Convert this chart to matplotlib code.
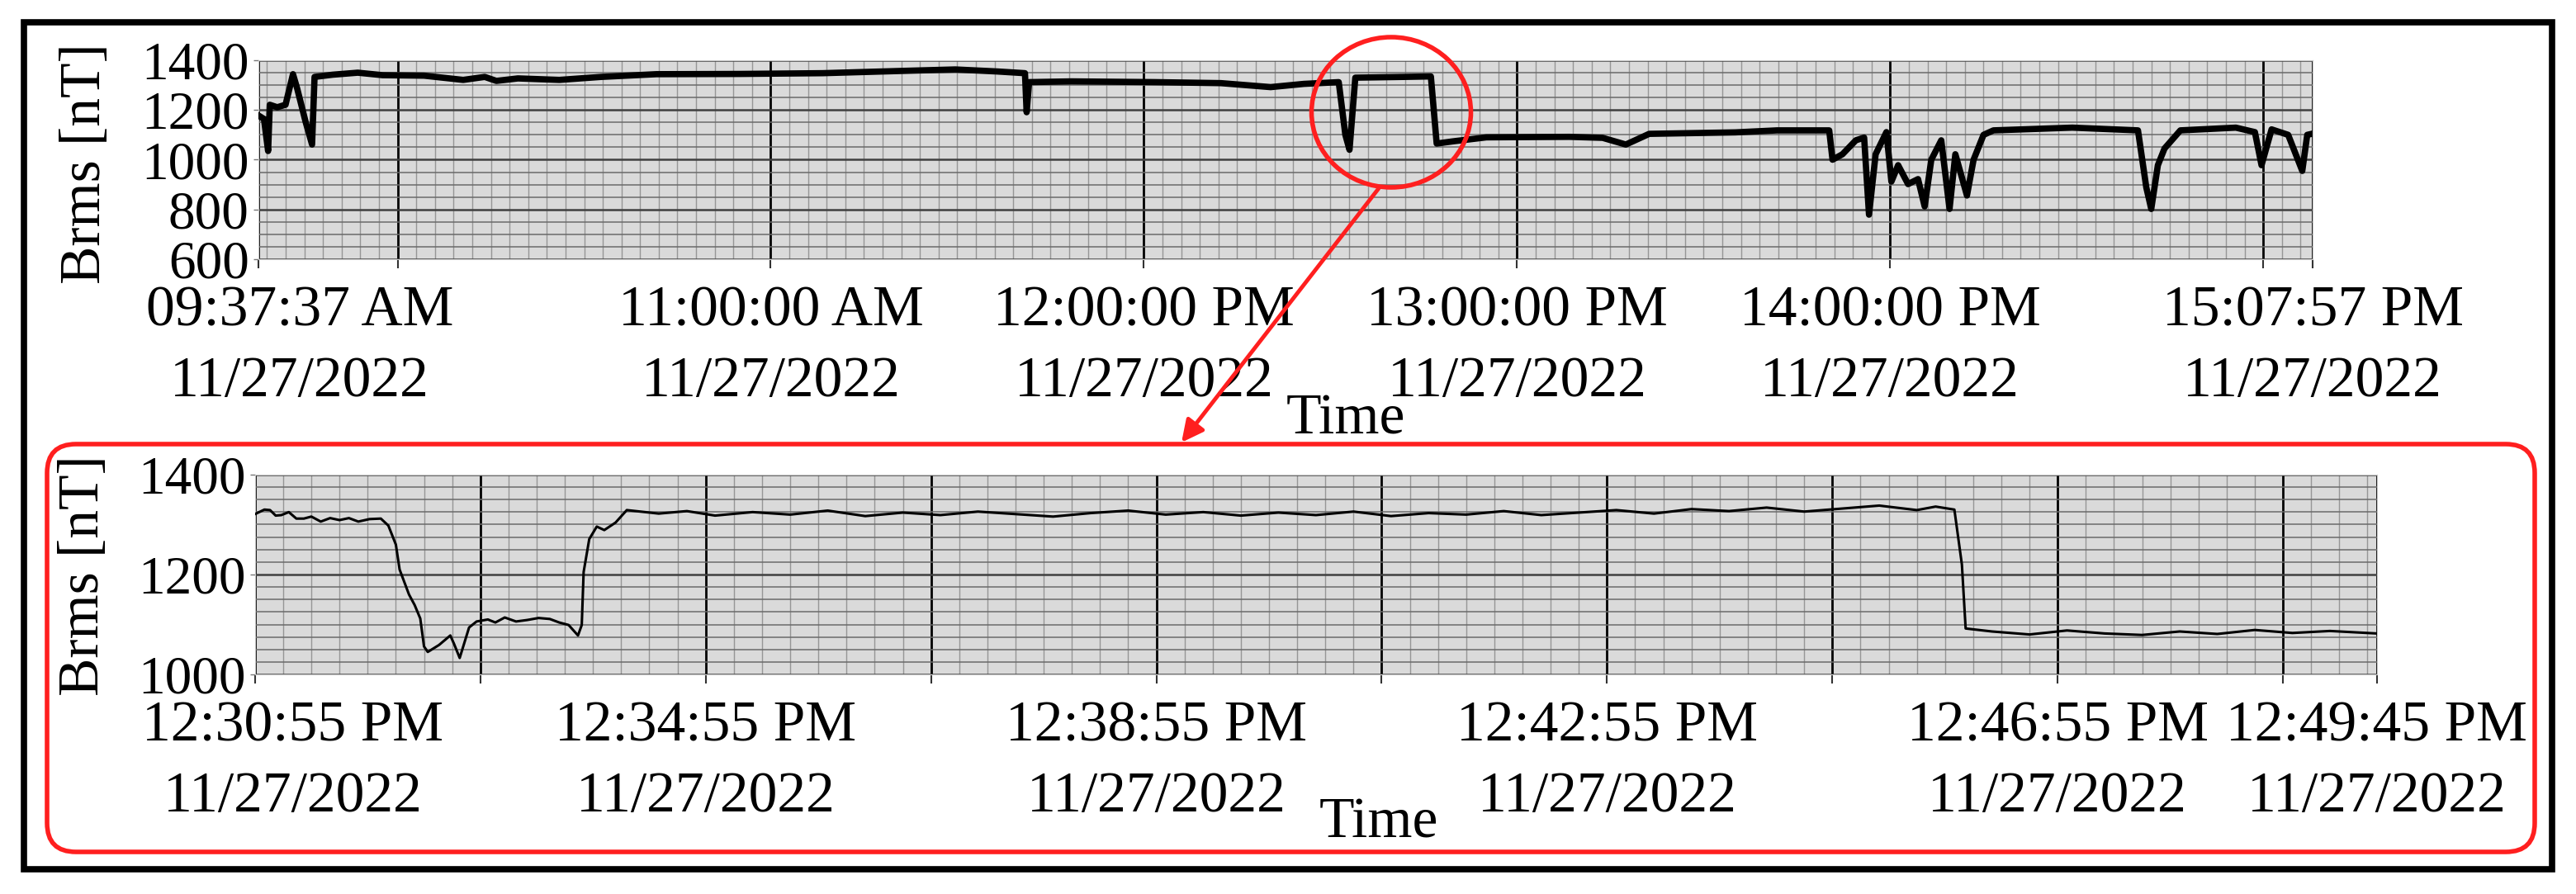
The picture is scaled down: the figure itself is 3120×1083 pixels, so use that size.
import numpy as np
import matplotlib
matplotlib.use('Agg')
import matplotlib.pyplot as plt
import matplotlib.transforms as mtransforms
from matplotlib.patches import Ellipse, Rectangle, FancyBboxPatch, FancyArrowPatch
from matplotlib.ticker import FixedLocator

plt.rcParams['font.family'] = ['Liberation Serif', 'DejaVu Serif']

DATE = '11/27/2022'

# whole record, 09:37:37 AM .. 15:07:57 PM
day_times = ['09:37:37', '09:38:31', '09:39:11', '09:39:27', '09:40:39', '09:41:59',
             '09:43:11', '09:43:51', '09:45:11', '09:46:15', '09:46:39', '09:49:35',
             '09:53:36', '09:57:36', '10:04:16', '10:10:33', '10:14:01', '10:15:53',
             '10:19:21', '10:26:01', '10:32:42', '10:41:38', '10:54:59', '11:08:20',
             '11:22:20', '11:29:41', '11:36:21', '11:40:53', '11:41:09', '11:41:33',
             '11:48:22', '12:01:42', '12:12:23', '12:20:23', '12:25:44', '12:31:20',
             '12:32:24', '12:33:04', '12:34:00', '12:41:44', '12:46:09', '12:47:05',
             '12:49:45', '12:55:05', '13:08:26', '13:13:46', '13:17:30', '13:21:15',
             '13:35:07', '13:41:48', '13:50:12', '13:50:44', '13:52:20', '13:54:29',
             '13:55:49', '13:56:36', '13:57:40', '13:59:24', '14:00:12', '14:01:17',
             '14:02:53', '14:04:29', '14:05:33', '14:06:37', '14:08:13', '14:09:33',
             '14:10:29', '14:12:21', '14:13:25', '14:15:01', '14:16:37', '14:29:18',
             '14:39:51', '14:41:11', '14:41:59', '14:43:03', '14:44:07', '14:46:40',
             '14:55:35', '14:58:39', '14:59:43', '15:01:20', '15:04:00', '15:06:16',
             '15:07:04', '15:07:57']
day_brms = [1178, 1164, 1035, 1221, 1211, 1221,
            1344, 1287, 1155, 1061, 1333, 1342,
            1350, 1340, 1338, 1321, 1333, 1317,
            1327, 1321, 1333, 1344, 1345, 1348,
            1358, 1363, 1355, 1348, 1191, 1312,
            1315, 1312, 1308, 1292, 1305, 1312,
            1100, 1040, 1330, 1333, 1335, 1065,
            1074, 1090, 1092, 1088, 1061, 1104,
            1110, 1118, 1118, 1000, 1022, 1078,
            1089, 779, 1022, 1111, 912, 978,
            902, 922, 812, 1000, 1078, 802,
            1022, 856, 1000, 1100, 1118, 1129,
            1118, 889, 802, 978, 1045, 1118,
            1129, 1111, 978, 1122, 1100, 955,
            1100, 1105]
day_ticks = ['09:37:37', '10:00:00', '11:00:00', '12:00:00', '13:00:00',
             '14:00:00', '15:00:00', '15:07:57']
day_tick_labels = ['09:37:37 AM', '', '11:00:00 AM', '12:00:00 PM', '13:00:00 PM',
                   '14:00:00 PM', '', '15:07:57 PM']
day_yticks = [600, 800, 1000, 1200, 1400]

# zoomed window, 12:30:55 PM .. 12:49:45 PM
zoom_times = ['12:30:55', '12:31:00', '12:31:03', '12:31:06', '12:31:09', '12:31:13',
              '12:31:17', '12:31:21', '12:31:25', '12:31:30', '12:31:35', '12:31:40',
              '12:31:45', '12:31:50', '12:31:56', '12:32:02', '12:32:06', '12:32:10',
              '12:32:12', '12:32:17', '12:32:20', '12:32:23', '12:32:25', '12:32:27',
              '12:32:33', '12:32:39', '12:32:41', '12:32:44', '12:32:49', '12:32:53',
              '12:32:59', '12:33:03', '12:33:08', '12:33:14', '12:33:20', '12:33:26',
              '12:33:32', '12:33:37', '12:33:42', '12:33:47', '12:33:49', '12:33:50',
              '12:33:53', '12:33:57', '12:34:01', '12:34:07', '12:34:13', '12:34:30',
              '12:34:45', '12:35:00', '12:35:20', '12:35:40', '12:36:00', '12:36:20',
              '12:36:40', '12:37:00', '12:37:20', '12:37:40', '12:38:00', '12:38:20',
              '12:38:40', '12:39:00', '12:39:20', '12:39:40', '12:40:00', '12:40:20',
              '12:40:40', '12:41:00', '12:41:20', '12:41:40', '12:42:00', '12:42:20',
              '12:42:40', '12:43:00', '12:43:20', '12:43:40', '12:44:00', '12:44:20',
              '12:44:40', '12:45:00', '12:45:20', '12:45:40', '12:45:50', '12:46:00',
              '12:46:04', '12:46:06', '12:46:20', '12:46:40', '12:47:00', '12:47:20',
              '12:47:40', '12:48:00', '12:48:20', '12:48:40', '12:49:00', '12:49:20',
              '12:49:45']
zoom_brms = [1321, 1330, 1329, 1318, 1319, 1325,
             1312, 1312, 1316, 1306, 1313, 1309,
             1313, 1306, 1311, 1312, 1298, 1260,
             1210, 1160, 1139, 1112, 1056, 1045,
             1059, 1078, 1061, 1033, 1094, 1106,
             1110, 1104, 1114, 1106, 1109, 1113,
             1111, 1104, 1099, 1078, 1099, 1205,
             1271, 1296, 1289, 1304, 1329, 1322,
             1327, 1318, 1325, 1320, 1328, 1317,
             1324, 1319, 1326, 1321, 1316, 1323,
             1328, 1320, 1325, 1318, 1324, 1319,
             1326, 1317, 1323, 1320, 1327, 1319,
             1324, 1329, 1322, 1331, 1327, 1334,
             1326, 1332, 1338, 1329, 1336, 1330,
             1220, 1092, 1086, 1080, 1088, 1082,
             1079, 1086, 1081, 1089, 1083, 1087,
             1082]
zoom_ticks = ['12:30:55', '12:32:55', '12:34:55', '12:36:55', '12:38:55', '12:40:55',
              '12:42:55', '12:44:55', '12:46:55', '12:48:55', '12:49:45']
zoom_tick_labels = ['12:30:55 PM', '', '12:34:55 PM', '', '12:38:55 PM', '',
                    '12:42:55 PM', '', '12:46:55 PM', '', '12:49:45 PM']
zoom_yticks = [1000, 1200, 1400]


def secs(t):
    h, m, s = (int(p) for p in t.split(':'))
    return h * 3600 + m * 60 + s


def draw_panel(ax, times, values, ticks, labels, yticks, minor_x, minor_y, lw, first_shift):
    x = [secs(t) for t in times]
    tx = [secs(t) for t in ticks]

    ax.set_facecolor('#dadada')
    ax.plot(x, values, color='black', lw=lw, solid_joinstyle='round', zorder=3)
    ax.set_xlim(tx[0], tx[-1])
    ax.set_ylim(yticks[0], yticks[-1])

    ax.set_xticks(tx)
    ax.set_xticklabels([l + '\n' + DATE if l else '' for l in labels], fontsize=50,
                       linespacing=1.45)
    start = tx[1] - ((tx[1] - tx[0]) // minor_x) * minor_x
    ax.xaxis.set_minor_locator(FixedLocator(np.arange(start, tx[-1], minor_x)))
    ax.set_yticks(yticks)
    ax.set_yticklabels([str(v) for v in yticks], fontsize=47)
    ax.yaxis.set_minor_locator(FixedLocator(np.arange(yticks[0], yticks[-1], minor_y)))

    ax.xaxis.grid(True, which='major', color='black', lw=2.0)
    ax.xaxis.grid(True, which='minor', color='#969696', lw=1.0)
    ax.yaxis.grid(True, which='major', color='#404040', lw=1.8)
    ax.yaxis.grid(True, which='minor', color='#6a6a6a', lw=1.1)
    ax.set_axisbelow(True)

    ax.tick_params(axis='x', which='major', direction='out', length=8, width=1.5,
                   color='#333333', pad=15)
    ax.tick_params(axis='y', which='major', direction='out', length=4, width=1,
                   color='#777777', pad=4)
    ax.tick_params(which='minor', length=0)
    for s in ax.spines.values():
        s.set_color('#c8c8c8')
        s.set_linewidth(0.8)

    # first label sits a bit to the right of the axis start
    lab = ax.get_xticklabels()[0]
    lab.set_transform(lab.get_transform() +
                      mtransforms.ScaledTranslation(first_shift, 0, ax.figure.dpi_scale_trans))


fig = plt.figure(figsize=(31.2, 10.83), dpi=100)
ax1 = fig.add_axes([0.1003, 0.7101, 0.7975, 0.2225])
ax2 = fig.add_axes([0.0990, 0.2456, 0.8237, 0.2235])

draw_panel(ax1, day_times, day_brms, day_ticks, day_tick_labels, day_yticks,
           180, 50, 5.5, 0.5)
draw_panel(ax2, zoom_times, zoom_brms, zoom_ticks, zoom_tick_labels, zoom_yticks,
           15, 25, 2.2, 0.46)

fig.text(0.0333, 0.8172, 'Brms [nT]', rotation=90, ha='center', va='center', fontsize=50)
fig.text(0.0327, 0.3564, 'Brms [nT]', rotation=90, ha='center', va='center', fontsize=50)
fig.text(0.5224, 0.5300, 'Time', ha='center', va='center', fontsize=50)
fig.text(0.5353, 0.0790, 'Time', ha='center', va='center', fontsize=50)

inch = fig.dpi_scale_trans
red = '#ff1f1f'
fig.add_artist(Rectangle((0.29, 0.30), 30.62, 10.26, transform=inch, fill=False,
                         ec='black', lw=5.5, zorder=5))
fig.add_artist(FancyBboxPatch((0.57, 0.51), 30.13, 4.94,
                              boxstyle='round,pad=0,rounding_size=0.35',
                              transform=inch, fill=False, ec=red, lw=4, zorder=5))
fig.add_artist(Ellipse((16.85, 9.47), 1.93, 1.82, transform=inch, fill=False,
                       ec=red, lw=4, zorder=5))
fig.add_artist(FancyArrowPatch((16.70, 8.55), (14.31, 5.47), transform=inch,
                               arrowstyle='-|>', mutation_scale=40, color=red,
                               lw=3.5, shrinkA=0, shrinkB=0, zorder=5))

fig.savefig('out.png', dpi=100, facecolor='white')
